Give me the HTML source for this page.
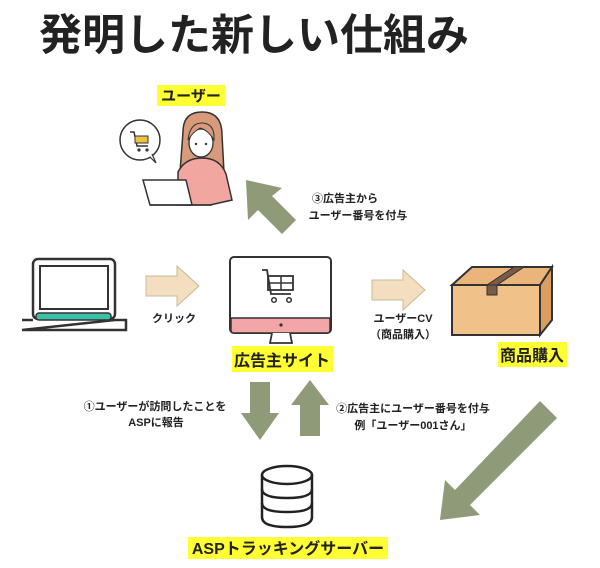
<!DOCTYPE html>
<html><head><meta charset="utf-8"><style>
html,body{margin:0;padding:0;background:#fff;}
svg{display:block;}
text{font-family:"Liberation Sans","Noto Sans CJK JP",sans-serif;fill:#222;}
.b{font-weight:bold;}
</style></head><body>
<svg width="600" height="568" viewBox="0 0 600 568" xmlns="http://www.w3.org/2000/svg">
<rect width="600" height="568" fill="#fff"/>
<text x="39" y="50" font-size="43" class="b" fill="#111">発明した新しい仕組み</text>

<rect x="157" y="85" width="68" height="21" fill="#ffff33"/>
<text x="191" y="101" font-size="15" class="b" text-anchor="middle">ユーザー</text>

<circle cx="140" cy="140" r="20" fill="#fff" stroke="#333" stroke-width="1.5"/>
<path d="M150 157 L156 163 L152 154" fill="#fff" stroke="#333" stroke-width="1.2"/>
<path d="M130 132 L134 132 L137 146 L148 146" fill="none" stroke="#333" stroke-width="1.5"/>
<rect x="135" y="136" width="13" height="7" fill="#f0c040" stroke="#333"/>
<circle cx="139" cy="150" r="1.6" fill="#333"/><circle cx="147" cy="150" r="1.6" fill="#333"/>

<!-- person -->
<path d="M183 132 Q183 112 202 112 Q222 112 222 135 L224 172 L180 172 Z" fill="#d99a7c" stroke="#333" stroke-width="1.5"/>
<path d="M178 205 L178 172 Q185 158 202 158 Q220 158 226 174 L232 200 L210 205 Z" fill="#f2a6a0" stroke="#333" stroke-width="1.5"/>
<ellipse cx="201" cy="143" rx="12" ry="14" fill="#fff" stroke="#333" stroke-width="1.3"/>
<path d="M188 140 Q190 122 203 123 Q215 124 214 140 Q208 130 200 128 Q193 132 188 140Z" fill="#d99a7c" stroke="#333" stroke-width="1"/>
<circle cx="196" cy="144" r="1.2" fill="#333"/><circle cx="206" cy="144" r="1.2" fill="#333"/>
<path d="M143 180 L186 180 L192 205 L150 205 Z" fill="#fff" stroke="#333" stroke-width="1.5"/>
<line x1="150" y1="205" x2="212" y2="205" stroke="#333" stroke-width="1.5"/>

<polygon points="246,180 282,188 272,196 296,220 282,234 258,210 248,220" fill="#8e9a78"/>
<text x="345" y="202" font-size="11" class="b" text-anchor="middle">③広告主から</text>
<text x="358" y="219" font-size="11" class="b" text-anchor="middle">ユーザー番号を付与</text>

<rect x="33" y="259" width="82" height="60" rx="5" fill="#fff" stroke="#333" stroke-width="2.5"/>
<rect x="40" y="266" width="68" height="43" fill="#fff" stroke="#333" stroke-width="2"/>
<rect x="36" y="313" width="75" height="7" rx="3" fill="#3cc0a8" stroke="#333" stroke-width="1.5"/>
<path d="M22 320 L33 320 M115 320 L126 320 L126 330 L22 330 Z" fill="#fff" stroke="#333" stroke-width="2.5"/>

<polygon points="146,276 177,276 177,266 199,286 177,306 177,296 146,296" fill="#f3dfbf" stroke="#cbb894" stroke-width="1"/>
<text x="174" y="322" font-size="11" class="b" text-anchor="middle">クリック</text>

<rect x="230" y="257" width="101" height="76" rx="4" fill="#fff" stroke="#333" stroke-width="2"/>
<path d="M231 318 L330 318 L330 330 Q330 333 327 333 L234 333 Q231 333 231 330Z" fill="#f2a6a8" stroke="#333" stroke-width="1.5"/>
<circle cx="281" cy="325" r="1.6" fill="#333"/>
<path d="M272 333 L270 343 L292 343 L290 333" fill="#fff" stroke="#333" stroke-width="1.8"/>
<path d="M262 270 L267 270 L271 294 L291 294" fill="none" stroke="#333" stroke-width="1.8"/>
<rect x="268" y="276" width="25" height="14" fill="none" stroke="#333" stroke-width="1.8"/>
<line x1="281" y1="276" x2="281" y2="290" stroke="#333" stroke-width="1.5"/>
<line x1="268" y1="283" x2="293" y2="283" stroke="#333" stroke-width="1.5"/>
<circle cx="274" cy="300" r="2.3" fill="none" stroke="#333" stroke-width="1.5"/>
<circle cx="289" cy="300" r="2.3" fill="none" stroke="#333" stroke-width="1.5"/>
<rect x="232" y="346" width="101" height="26" fill="#ffff33"/>
<text x="282" y="366" font-size="16" class="b" text-anchor="middle">広告主サイト</text>

<polygon points="372,280 403,280 403,270 425,290 403,310 403,300 372,300" fill="#f3dfbf" stroke="#cbb894" stroke-width="1"/>
<text x="403" y="322" font-size="11" class="b" text-anchor="middle">ユーザーCV</text>
<text x="403" y="338" font-size="11" class="b" text-anchor="middle">（商品購入）</text>

<polygon points="452,285 472,267 552,267 540,285" fill="#ebb47a" stroke="#333" stroke-width="2"/>
<polygon points="452,285 540,285 540,335 452,335" fill="#f0c28a" stroke="#333" stroke-width="2"/>
<polygon points="540,285 552,267 552,320 540,335" fill="#d99e60" stroke="#333" stroke-width="2"/>
<polygon points="487,285 497,285 524,267 514,267" fill="#7a5a48" stroke="#333" stroke-width="1"/>
<rect x="487" y="285" width="10" height="10" fill="#7a5a48" stroke="#333" stroke-width="1"/>
<rect x="498" y="342" width="69" height="25" fill="#ffff33"/>
<text x="532" y="361" font-size="16" class="b" text-anchor="middle">商品購入</text>

<polygon points="250,382 270,382 270,413 279,413 260,440 241,413 250,413" fill="#8e9a78"/>
<polygon points="300,436 320,436 320,405 329,405 310,380 291,405 300,405" fill="#8e9a78"/>
<text x="155" y="410" font-size="11" class="b" text-anchor="middle">①ユーザーが訪問したことを</text>
<text x="156" y="426" font-size="11" class="b" text-anchor="middle">ASPに報告</text>
<text x="413" y="412" font-size="11" class="b" text-anchor="middle">②広告主にユーザー番号を付与</text>
<text x="413" y="429" font-size="11" class="b" text-anchor="middle">例「ユーザー001さん」</text>

<polygon points="540,401 557,418 470,505 480,515 440,520 445,480 455,490" fill="#8e9a78"/>

<g fill="#fff" stroke="#222" stroke-width="2.5">
<path d="M262 475 L262 517 Q262 527 287 527 Q312 527 312 517 L312 475"/>
<ellipse cx="287" cy="475" rx="25" ry="9"/>
<path d="M262 489 Q262 498 287 498 Q312 498 312 489" fill="none"/>
<path d="M262 503 Q262 512 287 512 Q312 512 312 503" fill="none"/>
</g>
<rect x="188" y="537" width="200" height="22" fill="#ffff33"/>
<text x="288" y="554" font-size="16" class="b" text-anchor="middle">ASPトラッキングサーバー</text>
</svg>
</body></html>
